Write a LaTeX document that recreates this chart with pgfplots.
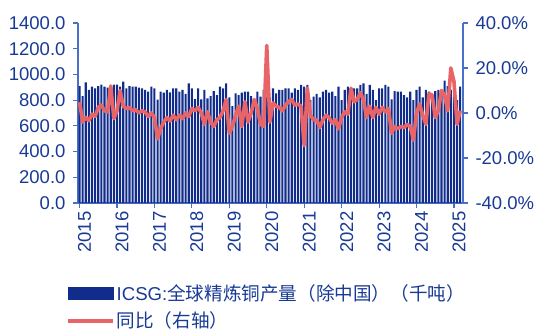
\documentclass[border=0pt]{standalone}
\usepackage{pgfplots}
\pgfplotsset{compat=1.18}
\usepackage{pgfplotstable}
\usepackage{fontspec}
\setmainfont{Liberation Sans}
\newfontfamily\cjk{Noto Sans CJK SC}
\definecolor{barblue}{RGB}{18,44,140}
\definecolor{axblue}{RGB}{72,112,200}
\definecolor{lblblue}{RGB}{24,58,150}
\definecolor{linered}{RGB}{232,100,102}
\pgfplotsset{/pgf/number format/assume math mode=true}

\pgfplotstableread{
x v p
0 910 4.8
1 832 -4
2 939 -2
3 880 -3.4
4 905 -0.5
5 892 -1.5
6 910 2.5
7 920 3.5
8 905 1
9 897 0.5
10 910 12
11 920 -2.5
12 920 1
13 905 10
14 944 3
15 892 2
16 910 2.5
17 905 1
18 905 1.5
19 897 0
20 892 1
21 880 0.5
22 866 -1.5
23 905 0
24 892 -2
25 805 -11.5
26 866 -7
27 858 -4
28 879 -2
29 860 -3.5
30 892 -1
31 892 -3
32 866 -1
33 879 -2.5
34 848 0
35 930 -1.5
36 892 2
37 807 1
38 892 2.5
39 806 0
40 879 -5
41 814 0.5
42 832 -4
43 871 -6
44 840 -3
45 905 -2
46 892 1
47 930 6
48 822 -9
49 754 -6
50 853 -1
51 840 3
52 858 -6
53 866 5
54 866 -4
55 832 0
56 801 6
57 866 2
58 827 -5
59 879 -6
60 827 30
61 820 -4
62 892 4.5
63 853 3
64 879 2.5
65 879 1
66 892 3.5
67 892 5
68 858 6
69 892 3.5
70 879 4
71 918 3
72 905 -14.5
73 918 11
74 801 -1
75 827 -3
76 848 -3
77 822 -6.5
78 866 -3
79 879 -1
80 858 -2
81 866 -4.5
82 832 -3
83 905 -7
84 801 -2
85 879 0.5
86 905 -0.5
87 892 11
88 892 5
89 892 6
90 918 9
91 930 6
92 848 -2
93 918 3
94 879 -2
95 801 2.5
96 892 -0.5
97 892 2.5
98 918 0.5
99 905 2
100 806 -9
101 871 -6
102 866 -7
103 866 -6
104 840 -6.5
105 822 -5
106 866 -6
107 801 -12
108 879 0
109 905 4
110 822 -1
111 879 -5
112 866 8.5
113 801 8
114 871 -2
115 879 1
116 879 10
117 952 8
118 910 1
119 879 20
120 827 14
121 801 -5
122 905 1
}\data

\begin{document}
\begin{tikzpicture}[font=\fontsize{18.5}{21}\selectfont]
\path[use as bounding box] (-78pt,-132pt) rectangle (472pt,203pt);
\begin{axis}[at={(0pt,0pt)}, anchor=south west, scale only axis,
  width=385pt, height=180pt,
  xmin=-0.5, xmax=122.9, ymin=0, ymax=1400,
  ytick={0,200,...,1400},
  xtick={0,12,...,120},
  xticklabels={2015,2016,2017,2018,2019,2020,2021,2022,2023,2024,2025},
  axis x line*=bottom, axis y line*=left,
  axis line style={axblue, line width=1.3pt},
  tick style={axblue, line width=1.1pt},
  major tick length=5pt, tick align=outside,
  ticklabel style={font=\fontsize{18.5}{21}\selectfont, text=lblblue},
  xticklabel style={rotate=90, anchor=east, yshift=-5pt},
  yticklabel style={xshift=-4pt, /pgf/number format/.cd, fixed, fixed zerofill, precision=1, 1000 sep={}},
]
\addplot[ybar, bar width=2.1pt, fill=barblue, draw=none] table[x=x,y=v]{\data};
\end{axis}
\begin{axis}[at={(0pt,0pt)}, anchor=south west, scale only axis,
  width=385pt, height=180pt,
  xmin=-0.5, xmax=122.9, ymin=-40, ymax=40,
  ytick={-40,-20,...,40},
  axis y line*=right, axis x line=none,
  axis line style={axblue, line width=1.3pt},
  tick style={axblue, line width=1.1pt},
  major tick length=5pt, tick align=outside,
  ticklabel style={font=\fontsize{18.5}{21}\selectfont, text=lblblue},
  yticklabel style={xshift=4pt},
  yticklabel={\pgfmathprintnumber[fixed,fixed zerofill,precision=1]{\tick}\%},
  legend style={at={(-0.035,-0.435)}, anchor=north west, draw=none, fill=none,
    font=\fontsize{18.6}{21}\selectfont, text=lblblue, row sep=6pt,
    inner sep=1pt,
    /tikz/every even column/.append style={column sep=4pt}},
  legend cell align=left,
]
\addlegendimage{legend image code/.code={\fill[barblue] (0pt,-6pt) rectangle (45pt,6pt);}}
\addlegendentry{ICSG:{\cjk 全球精炼铜产量（除中国）（千吨）}}
\addplot[linered, line width=3.6pt, line join=round,
  legend image code/.code={\draw[linered, line width=4pt] (0pt,0pt) -- (45pt,0pt);}]
  table[x=x,y=p]{\data};
\addlegendentry{\cjk 同比（右轴）}
\end{axis}
\end{tikzpicture}
\end{document}
